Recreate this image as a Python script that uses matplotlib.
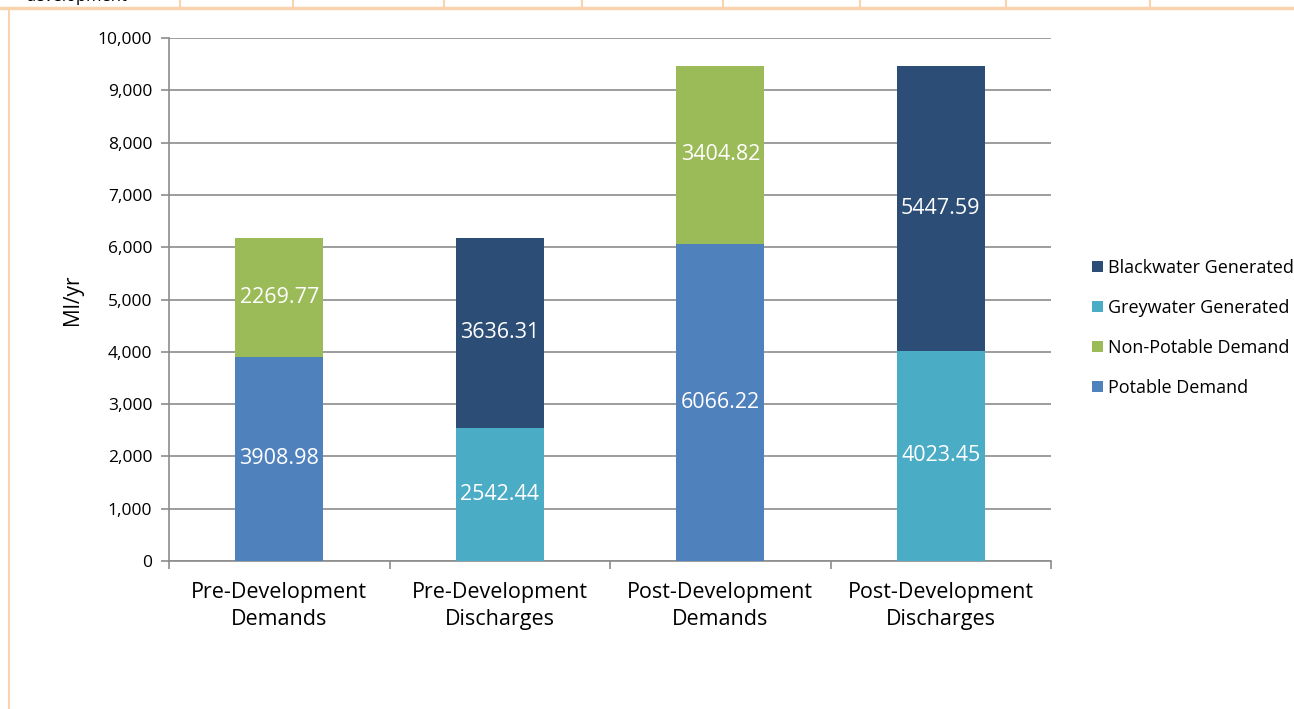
import matplotlib
matplotlib.use("Agg")
from matplotlib import pyplot as plt
from matplotlib.lines import Line2D
import numpy as np

categories = ["Pre-Development\nDemands", "Pre-Development\nDischarges",
              "Post-Development\nDemands", "Post-Development\nDischarges"]
series_names = ["Potable Demand", "Non-Potable Demand", "Greywater Generated", "Blackwater Generated"]
potable = [3908.98, 0, 6066.22, 0]
non_potable = [2269.77, 0, 3404.82, 0]
greywater = [0, 2542.44, 0, 4023.45]
blackwater = [0, 3636.31, 0, 5447.59]
y_ticks = list(range(0, 10001, 1000))

COLORS = {"Potable Demand": "#4F81BD", "Non-Potable Demand": "#9BBB59",
          "Greywater Generated": "#4BACC6", "Blackwater Generated": "#2C4D75"}
GRID = "#8C8C8C"
BORDER = "#F9D3AD"

plt.rcParams["font.family"] = ["Open Sans", "DejaVu Sans"]

W, H = 1294, 709
fig = plt.figure(figsize=(W / 100, H / 100), dpi=100)

# page border / cut-off table row above the chart
fig.add_artist(Line2D([0, 1], [1 - 7.5 / H] * 2, color=BORDER, lw=2.5, transform=fig.transFigure))
fig.add_artist(Line2D([9 / W] * 2, [0, 1 - 7.5 / H], color=BORDER, lw=1.5, transform=fig.transFigure))
for xp in [180, 293, 444, 582, 723, 860, 1006, 1150]:
    fig.add_artist(Line2D([xp / W] * 2, [1 - 7 / H, 1], color=BORDER, lw=1.5, transform=fig.transFigure))
fig.text(25 / W, 1 + 3 / H, "development", fontsize=12, va="center", ha="left", color="black")

ax = fig.add_axes([169 / W, (H - 561) / H, 882 / W, 523 / H])
x = np.arange(len(categories))
width = 0.4

stacks = [(series_names[0], potable, None), (series_names[1], non_potable, potable),
          (series_names[2], greywater, None), (series_names[3], blackwater, greywater)]
handles = {}
for name, vals, base in stacks:
    bottom = base if base is not None else [0] * len(vals)
    bars = ax.bar(x, vals, width, bottom=bottom, color=COLORS[name], zorder=3, label=name)
    handles[name] = bars
    for xi, v, b in zip(x, vals, bottom):
        if v > 0:
            ax.text(xi, b + v / 2, f"{v:.2f}", ha="center", va="center",
                    color="white", fontsize=15.5, zorder=4)

ax.set_xlim(-0.5, len(categories) - 0.5)
ax.set_ylim(0, 10000)
ax.set_yticks(y_ticks)
ax.set_yticklabels([f"{t:,}" for t in y_ticks], fontsize=12.5)
ax.yaxis.grid(True, color=GRID, lw=1.2, zorder=0)
ax.set_xticks(x)
ax.set_xticklabels(categories, fontsize=15.5, linespacing=1.38)
ax.set_xticks(np.arange(-0.5, len(categories)), minor=True)
ax.tick_params(axis="x", which="major", length=0, pad=15)
ax.tick_params(axis="x", which="minor", length=6, width=1.2, color=GRID, direction="out")
ax.tick_params(axis="y", length=6, width=1.2, color=GRID, direction="out", pad=6)
for side in ["top", "right"]:
    ax.spines[side].set_visible(False)
for side in ["left", "bottom"]:
    ax.spines[side].set_color(GRID)
    ax.spines[side].set_linewidth(1.2)
ax.set_ylabel("Ml/yr", fontsize=15, labelpad=11)

order = series_names[::-1]
leg = fig.legend([handles[n] for n in order], order, loc="center left",
                 bbox_to_anchor=(1076 / W, 1 - 328 / H), frameon=False, fontsize=13,
                 handlelength=0.6, handleheight=0.6, handletextpad=0.3, labelspacing=1.22)

fig.savefig("out.png", dpi=100)
